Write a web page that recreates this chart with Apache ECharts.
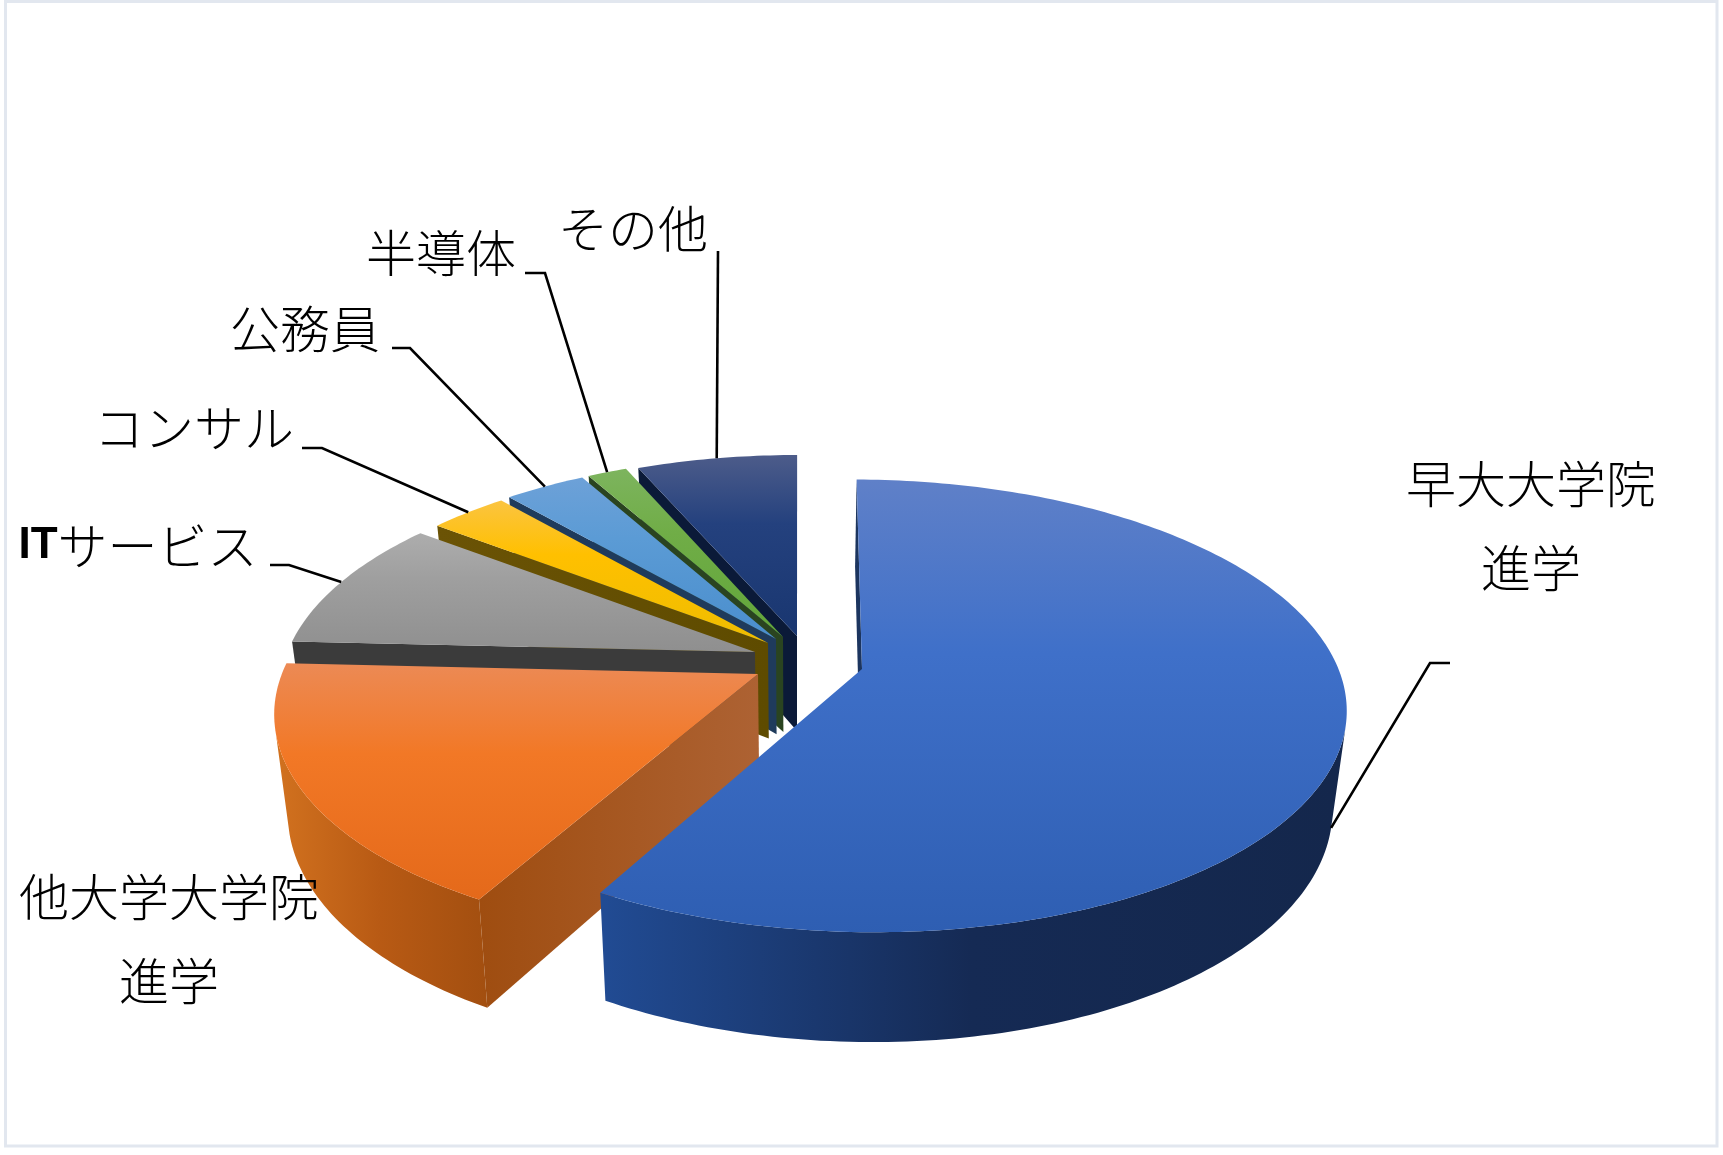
<!DOCTYPE html>
<html><head><meta charset="utf-8">
<style>html,body{margin:0;padding:0;background:#fff}#c{width:1723px;height:1155px}</style>
<script src="https://cdn.jsdelivr.net/npm/echarts@6/dist/echarts.min.js"></script>
</head><body><div id="c"></div>
<script>
// ---- data ----
const categories = ['早大大学院\n進学','他大学大学院\n進学','ITサービス','コンサル','公務員','半導体','その他'];
const shares = [58.1, 17.6, 9.6, 3.2, 3.3, 1.6, 6.5];

// ---- layout / style ----
const view = {x0:798, y0:645, B:212.6, p:0.16, k:0.974, dA:95, dB:0.05, dRef:635};
const radii = [468,466,465,461,461,461,461];
const edgeNudge = [0.5,0,0,0,0,0,0];
const apexes = [[862,669],[758,674],[755,652],[768,643],[776,639],[783,637],[797,636]];
const labelPos = [[1531,526],[169,939],[138,546],[194,428],[305,329],[441,253],[633,229]];
const elbows = [[[1450,663],[1430,663]],null,[[270,565],[289,565]],[[302,448],[322,448]],[[392,348],[410,348]],[[525,273],[545,273]],[[718,251]]];
const leaderOnBase = [true,false,false,false,false,false,false];
const paintRank = [6,5,4,3,2,1,0];
const tops = [
 ['#5f80c8','#3f70c9','#2e5eb2'],['#ec8a55','#f27826','#e4691a'],['#adadad','#9f9f9f','#8f8f8f'],
 ['#fbc441','#ffc000','#eebd00'],['#6da1d8','#5b9bd5','#4a8ecd'],['#7db45e','#70ad47','#62a63a'],['#4d5c8a','#24417e','#193670']];
const outerWalls = [['#214b93','#152a54','#14274c'],['#d2721f','#b85a14','#a34f10'],['#3b3b3b','#3b3b3b','#3b3b3b'],['#6a5204','#604d00','#604d00'],['#1f3b5c','#1f3b5c','#1f3b5c'],['#2a4420','#2a4420','#2a4420'],['#0b1a38','#0b1a38','#0b1a38']];
const startWalls = [['#1c355f','#1c355f'],['#9f4d10','#ad6233'],['#3b3b3b','#3b3b3b'],['#6b5305','#5e4b00'],['#1f3b5c','#1f3b5c'],['#2a4420','#2a4420'],['#0b1a38','#0b1a38']];
const FONT = '"Noto Sans CJK JP","Noto Sans",sans-serif';

// ---- projection helpers ----
function unproject(px,py){const u=(view.y0-py)/view.B;const Y=u/(1-view.p*u);const s=1/(1+view.p*Y);return [(px-view.x0)/s,Y];}
function project(X,Y){const s=1/(1+view.p*Y);return [view.x0+X*s, view.y0-view.B*Y*s];}
function down(pt){return [view.x0+(pt[0]-view.x0)*view.k, pt[1]+view.dA+view.dB*(pt[1]-view.dRef)];}
function rim(i,deg){const a=unproject(apexes[i][0],apexes[i][1]);const t=deg*Math.PI/180;return project(a[0]+radii[i]*Math.sin(t),a[1]+Math.cos(t));}
function range(i){const tot=shares.reduce((s,v)=>s+v,0);let c=0;for(let j=0;j<i;j++)c+=shares[j];return [c/tot*360+edgeNudge[i],(c+shares[i])/tot*360];}
function vGrad(c,y1,y2){return new echarts.graphic.LinearGradient(0,y1,0,y2,[{offset:0,color:c[0]},{offset:.38,color:c[1]},{offset:1,color:c[2]}],true);}
function hGrad(c,x1,x2){const st=c.length===3?[{offset:0,color:c[0]},{offset:.5,color:c[1]},{offset:1,color:c[2]}]:[{offset:0,color:c[0]},{offset:1,color:c[1]}];return new echarts.graphic.LinearGradient(x1,0,x2,0,st,true);}

function renderSlice(params,api){
  const i=api.value(0);
  const [a0,a1]=range(i);
  const n=Math.max(8,Math.ceil((a1-a0)/1));
  const arc=[];for(let j=0;j<=n;j++)arc.push(rim(i,a0+(a1-a0)*j/n));
  const base=arc.map(down);
  const apex=apexes[i],apexB=down(apex);
  const xs=arc.map(p=>p[0]),ys=arc.map(p=>p[1]).concat(apex[1]);
  const minX=Math.min(...xs,apex[0]),maxX=Math.max(...xs,apex[0]);
  const zb=paintRank[i]*10;
  const kids=[];
  // radial wall at the slice's start edge
  kids.push({type:'polygon',z2:zb+1,silent:true,shape:{points:[apex,arc[0],base[0],apexB]},
    style:{fill:hGrad(startWalls[i],Math.min(arc[0][0],apex[0]),Math.max(arc[0][0],apex[0]))}});
  // outer curved wall: only the part of the rim that faces the viewer
  const front=[],frontBase=[];
  for(let j=0;j<=n;j++){
    const q=j<n?j:n-1;
    const tx=arc[q+1][0]-arc[q][0],ty=arc[q+1][1]-arc[q][1];
    const dx=base[j][0]-arc[j][0],dy=base[j][1]-arc[j][1];
    if(tx*dy-ty*dx<0){front.push(arc[j]);frontBase.push(base[j]);}
  }
  if(front.length>1){
    kids.push({type:'polygon',z2:zb+2,silent:true,shape:{points:front.concat(frontBase.slice().reverse())},
      style:{fill:hGrad(outerWalls[i],i===0?604:minX,i===0?1340:(i===1?486:maxX))}});
  }
  // top face
  kids.push({type:'polygon',z2:zb+3,silent:true,shape:{points:[apex].concat(arc)},
    style:{fill:vGrad(tops[i],i<2?(i===0?481:663):Math.min(...ys),i<2?(i===0?935:902):Math.max(...ys))}});
  // leader line
  if(elbows[i]){
    const mid=rim(i,(a0+a1)/2);
    const end=leaderOnBase[i]?down(mid):mid;
    kids.push({type:'polyline',z2:200,silent:true,shape:{points:elbows[i].concat([end])},
      style:{stroke:'#000',lineWidth:2.6,fill:null}});
  }
  // label ("IT" is heavier in the original)
  kids.push({type:'text',z2:210,silent:true,x:labelPos[i][0],y:labelPos[i][1],
    style:{text:categories[i].replace('IT','{b|IT}'),fontSize:50,fontWeight:300,fontFamily:FONT,fill:'#000',align:'center',verticalAlign:'middle',lineHeight:84,
      rich:{b:{fontSize:44,fontWeight:'bold',fontFamily:'"Liberation Sans",sans-serif',fill:'#000'}}}});
  return {type:'group',children:kids};
}

const chart=echarts.init(document.getElementById('c'),null,{renderer:'canvas'});
chart.setOption({
  animation:false,
  backgroundColor:'#fff',
  graphic:[{type:'rect',z:-1,silent:true,shape:{x:5.5,y:1.5,width:1711.5,height:1144.5},style:{fill:'#fff',stroke:'#e2e7ef',lineWidth:3}}],
  series:[{type:'custom',coordinateSystem:'none',renderItem:renderSlice,clip:false,data:shares.map((v,i)=>[i,v])}]
});
</script></body></html>
